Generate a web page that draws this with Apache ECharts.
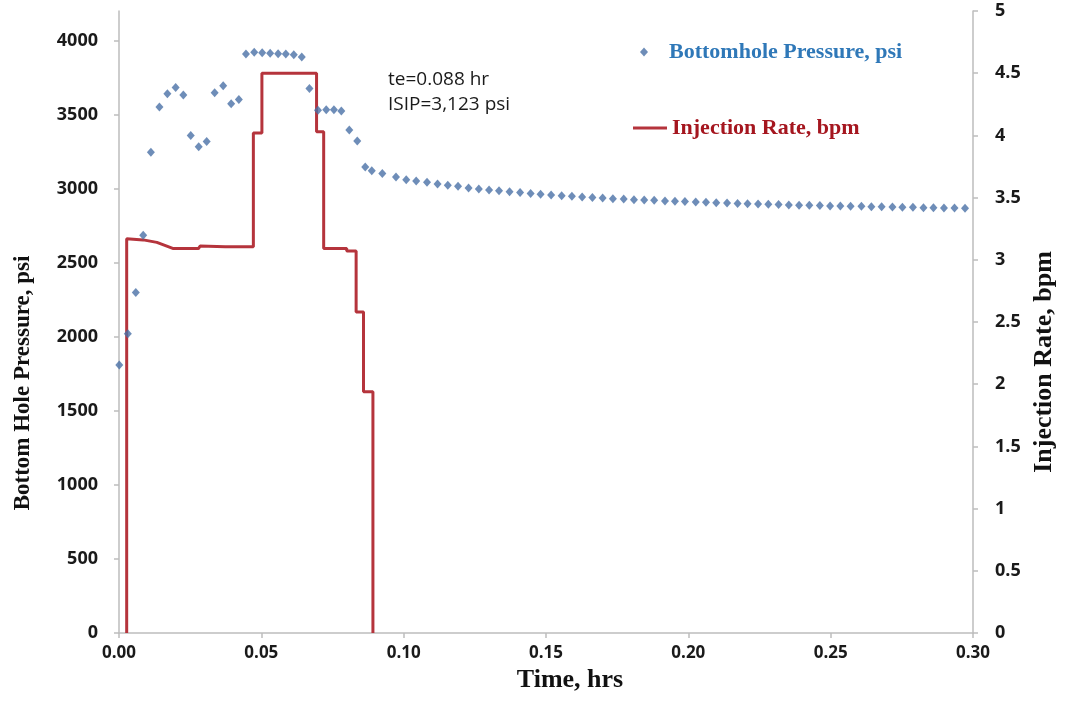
<!DOCTYPE html>
<html>
<head>
<meta charset="utf-8">
<script src="https://cdn.jsdelivr.net/npm/echarts@6/dist/echarts.min.js"></script>
<style>html,body{margin:0;padding:0;background:#fff;}#c{width:1068px;height:717px;}</style>
</head>
<body>
<div id="c"></div>
<script>
// Time (hrs) of each bottomhole pressure reading
var pressureTime = [0.0001,0.0031,0.0059,0.0085,0.0112,0.0142,0.0170,0.0199,0.0226,0.0252,0.0280,0.0308,0.0336,0.0366,0.0394,0.0421,0.0446,0.0475,0.0503,0.0531,0.0559,0.0586,0.0614,0.0642,0.0669,0.0699,0.0728,0.0755,0.0781,0.0809,0.0837,0.0865,0.0888,0.0925,0.0973,
  0.1009,0.1044,0.1082,0.1119,0.1155,0.1191,0.1228,0.1264,0.1300,0.1335,0.1372,0.1409,0.1446,0.1481,0.1518,0.1555,0.1591,0.1627,0.1663,0.1699,0.1735,0.1773,0.1809,0.1845,0.1880,0.1918,0.1953,0.1988,0.2026,0.2062,0.2098,0.2136,0.2173,0.2208,0.2245,0.2281,0.2317,0.2353,0.2389,0.2425,0.2462,0.2498,0.2534,0.2570,0.2608,0.2643,0.2679,0.2717,0.2752,0.2789,0.2826,0.2861,0.2898,0.2935,0.2972];
// Bottomhole pressure, psi
var pressure = [1810,2020,2300,2686,3246,3551,3642,3684,3632,3360,3284,3318,3648,3696,3574,3603,3909,3922,3918,3914,3912,3909,3905,3889,3677,3529,3534,3534,3524,3396,3322,3146,3122,3102,3079,
  3061,3052,3043,3032,3023,3016,3005,2998,2991,2987,2980,2974,2967,2962,2957,2953,2949,2944,2940,2937,2933,2931,2926,2924,2922,2917,2915,2913,2910,2908,2906,2904,2901,2899,2897,2895,2893,2890,2888,2888,2886,2883,2883,2881,2881,2879,2879,2876,2875,2874,2872,2871,2870,2869,2868];
// Injection rate step profile: time (hrs) and rate (bpm)
var rateTime = [0.0027,0.0027,0.0085,0.0133,0.0168,0.0191,0.0279,0.0285,0.0373,0.0472,0.0472,0.0502,0.0502,0.0694,0.0694,0.0719,0.0719,0.0800,0.0800,0.0833,0.0833,0.0859,0.0859,0.0892,0.0892];
var rate     = [0,3.17,3.16,3.14,3.11,3.09,3.09,3.11,3.105,3.105,4.02,4.02,4.50,4.50,4.03,4.03,3.09,3.09,3.07,3.07,2.58,2.58,1.94,1.94,0];
// Tick labels
var leftTicks = [0,500,1000,1500,2000,2500,3000,3500,4000];
var annotationLines = ['te=0.088 hr', 'ISIP=3,123 psi'];

var pData = pressureTime.map(function(t,i){return [t, pressure[i]];});
var rData = rateTime.map(function(t,i){return [t, rate[i]];});

var tickFont = {fontFamily:'Open Sans', fontWeight:'bold', fontSize:18, color:'#1a1a1a'};
var axisLineStyle = {lineStyle:{color:'#bdbdbd', width:1.5}};
var axisTickStyle = {show:true, inside:false, length:5, lineStyle:{color:'#bdbdbd', width:1.5}};

var chart = echarts.init(document.getElementById('c'), null, {renderer:'canvas'});
chart.setOption({
  backgroundColor:'#ffffff',
  animation:false,
  grid:{left:119, right:95, top:11, bottom:84, containLabel:false},
  xAxis:{
    type:'value', min:0, max:0.3, interval:0.05,
    axisLine:axisLineStyle, axisTick:axisTickStyle, splitLine:{show:false},
    axisLabel:Object.assign({}, tickFont, {fontSize:17, margin:12, formatter:function(v){return v.toFixed(2);}}),
    name:'Time, hrs', nameLocation:'middle', nameGap:34,
    nameTextStyle:{fontFamily:'Liberation Serif', fontWeight:'bold', fontSize:26, color:'#111', padding:[0,0,0,48]}
  },
  yAxis:[{
    type:'value', min:0, max:4200, interval:500,
    axisLine:{show:true, lineStyle:{color:'#bdbdbd', width:1.5}},
    axisTick:Object.assign({}, axisTickStyle, {customValues:leftTicks}),
    splitLine:{show:false},
    axisLabel:Object.assign({}, tickFont, {margin:21, customValues:leftTicks, formatter:function(v){return String(v);}}),
    name:'Bottom Hole Pressure, psi', nameLocation:'middle', nameGap:84, nameRotate:90,
    nameTextStyle:{fontFamily:'Liberation Serif', fontWeight:'bold', fontSize:23, color:'#111', padding:[0,122,0,0]}
  },{
    type:'value', min:0, max:5, interval:0.5, position:'right',
    axisLine:{show:true, lineStyle:{color:'#bdbdbd', width:1.5}},
    axisTick:axisTickStyle, splitLine:{show:false},
    axisLabel:Object.assign({}, tickFont, {margin:22, formatter:function(v){return String(v);}}),
    name:'Injection Rate, bpm', nameLocation:'middle', nameGap:58, nameRotate:90,
    nameTextStyle:{fontFamily:'Liberation Serif', fontWeight:'bold', fontSize:26, color:'#111', padding:[0,80,0,0]}
  }],
  legend:[{
    left:635, top:36, orient:'vertical', itemWidth:8, itemHeight:9,
    data:[{name:'Bottomhole Pressure, psi', icon:'diamond'}],
    textStyle:{fontFamily:'Liberation Serif', fontWeight:'bold', fontSize:22, color:'#2f78b8', padding:[0,0,0,16]}
  },{
    left:628, top:112, orient:'vertical', itemWidth:34, itemHeight:3,
    data:[{name:'Injection Rate, bpm', icon:'rect'}],
    textStyle:{fontFamily:'Liberation Serif', fontWeight:'bold', fontSize:22, color:'#a5161f', padding:[0,0,0,0]}
  }],
  graphic:[{
    type:'text', left:388, top:67,
    style:{text:annotationLines.join('\n'), fontFamily:'Open Sans', fontSize:19, lineHeight:25, fill:'#1a1a1a'}
  }],
  series:[{
    name:'Bottomhole Pressure, psi', type:'scatter', yAxisIndex:0,
    symbol:'diamond', symbolSize:[8,9],
    itemStyle:{color:'#4a70a6'},
    data:pData, z:3
  },{
    name:'Injection Rate, bpm', type:'line', yAxisIndex:1,
    showSymbol:false, symbol:'none',
    lineStyle:{color:'#b5343c', width:3},
    itemStyle:{color:'#b5343c'},
    data:rData, z:2
  }]
});
</script>
</body>
</html>
